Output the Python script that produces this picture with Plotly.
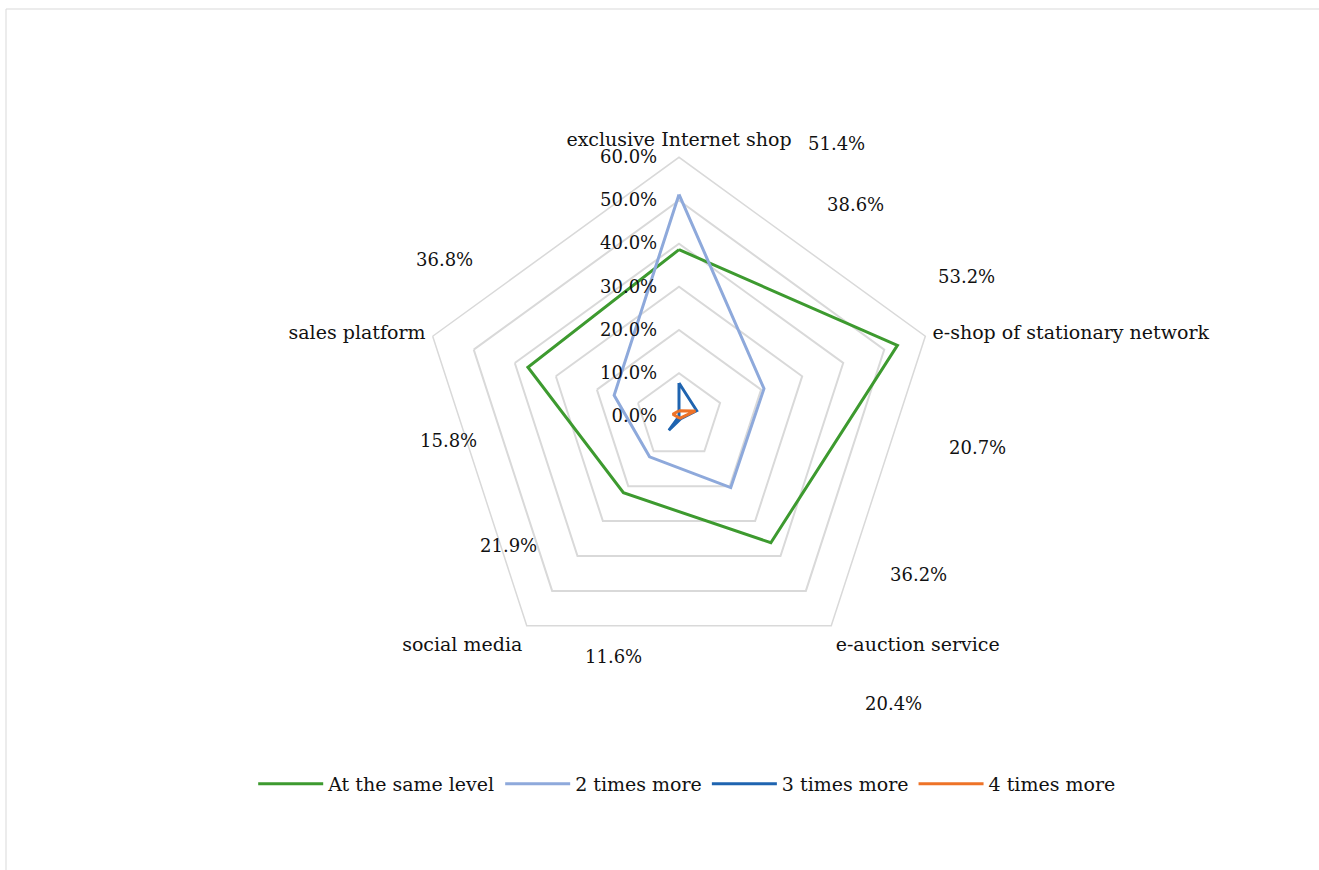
import plotly.graph_objects as go

categories = ["exclusive Internet shop", "e-shop of stationary network",
              "e-auction service", "social media", "sales platform"]
same_level = [38.6, 53.2, 36.2, 21.9, 36.8]
two_times = [51.4, 20.7, 20.4, 11.6, 15.8]
three_times = [7.7, 4.3, 0.7, 4.0, 0.0]
four_times = [1.3, 4.0, 0.5, 0.3, 1.5]
radial_ticks = [0, 10, 20, 30, 40, 50, 60]

series = [
    ("At the same level", same_level, "#3D9A2F"),
    ("2 times more", two_times, "#8EA9DB"),
    ("3 times more", three_times, "#1F64B0"),
    ("4 times more", four_times, "#EE7328"),
]

# pixel positions of the floating data labels (as placed in the reference)
label_pos_same = [(856, 204), (966, 277), (919, 574), (508, 545), (444, 259)]
label_pos_two = [(836, 143), (977, 447), (893, 703), (613, 656), (448, 440)]

W, H = 1319, 870
FONT = "DejaVu Serif"
FS_NUM = 18
FS_TXT = 19

fig = go.Figure()
for name, vals, col in series:
    fig.add_trace(go.Scatterpolar(
        r=vals + vals[:1], theta=categories + categories[:1], name=name,
        mode="lines", line=dict(color=col, width=3), cliponaxis=False))

ann = []
for vals, pos in ((same_level, label_pos_same), (two_times, label_pos_two)):
    for v, (px, py) in zip(vals, pos):
        ann.append(dict(text=f"{v:.1f}%", x=px / W, y=1 - py / H, xref="paper", yref="paper",
                        showarrow=False, font=dict(family=FONT, size=FS_NUM, color="#111"),
                        xanchor="center", yanchor="middle"))

cx, cy, R = 679, 416.3, 259
fig.update_layout(
    width=W, height=H, margin=dict(l=0, r=0, t=0, b=0),
    paper_bgcolor="white", plot_bgcolor="white",
    font=dict(family=FONT, size=FS_NUM, color="#111"),
    polar=dict(
        domain=dict(x=[(cx - R) / W, (cx + R) / W], y=[1 - (cy + R) / H, 1 - (cy - R) / H]),
        bgcolor="white", gridshape="linear",
        radialaxis=dict(range=[0, 60], tickvals=radial_ticks,
                        ticktext=[f"{t:.1f}%" for t in radial_ticks],
                        angle=90, tickangle=90, side="counterclockwise",
                        showline=False, ticks="outside", ticklen=15,
                        tickcolor="rgba(0,0,0,0)", gridcolor="#D9D9D9", gridwidth=1.5,
                        tickfont=dict(family=FONT, size=FS_NUM, color="#111")),
        angularaxis=dict(direction="clockwise", rotation=90, showline=True,
                         linecolor="#D9D9D9", linewidth=1.5, gridcolor="rgba(0,0,0,0)",
                         ticks="outside", ticklen=3, tickcolor="rgba(0,0,0,0)",
                         tickfont=dict(family=FONT, size=FS_TXT, color="#111")),
    ),
    legend=dict(orientation="h", x=0.521, y=1 - 784 / H, xanchor="center", yanchor="middle",
                font=dict(family=FONT, size=FS_TXT, color="#111"), itemwidth=65),
    annotations=ann,
    shapes=[
        dict(type="line", xref="paper", yref="paper", x0=6 / W, x1=1, y0=1 - 9 / H, y1=1 - 9 / H,
             line=dict(color="#D9D9D9", width=1)),
        dict(type="line", xref="paper", yref="paper", x0=6 / W, x1=6 / W, y0=0, y1=1 - 9 / H,
             line=dict(color="#D9D9D9", width=1)),
    ],
)
fig.write_html("out.html")
